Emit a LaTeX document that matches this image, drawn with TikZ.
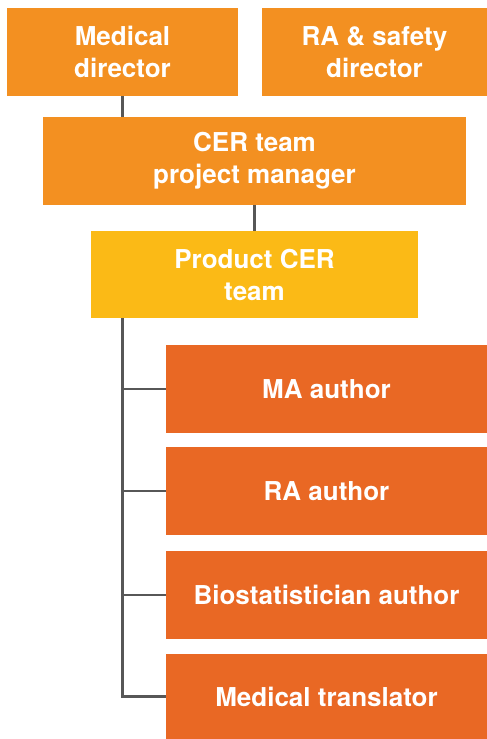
\documentclass[tikz,border=0pt]{standalone}
\usepackage{fontspec}
\setmainfont{TeX Gyre Heros}
\usepackage{xcolor}
\usepackage{tikz}
\usetikzlibrary{positioning}

\definecolor{cerorange}{HTML}{F39021}
\definecolor{ceryellow}{HTML}{FBBA16}
\definecolor{cerdark}{HTML}{E96824}
\definecolor{cerline}{HTML}{575757}

\begin{document}
\begin{tikzpicture}[
  x=1pt, y=-1pt,
  box/.style={inner sep=0pt, minimum height=88pt, align=center, text=white,
    font=\fontsize{26}{32}\selectfont\bfseries},
  link/.style={draw=cerline, line width=2.5pt},
]
\useasboundingbox (0,0) rectangle (487,739);

% top row
\node[box, fill=cerorange, minimum width=231pt] (med) at (122.5,52) {Medical\\director};
\node[box, fill=cerorange, minimum width=225pt] (ra) at (374.5,52) {RA \& safety\\director};

% project lead and team
\node[box, fill=cerorange, minimum width=423pt] (pm) at (254.5,161) {CER team\\project manager};
\node[box, fill=ceryellow, minimum width=327pt, minimum height=87pt] (prod) at (254.5,274.5) {Product CER\\team};

% authors
\node[box, fill=cerdark, minimum width=321pt] (ma) at (326.5,389) {MA author};
\node[box, fill=cerdark, minimum width=321pt] (raa) at (326.5,491) {RA author};
\node[box, fill=cerdark, minimum width=321pt] (bio) at (326.5,595) {Biostatistician author};
\node[box, fill=cerdark, minimum width=321pt, minimum height=85pt] (trans) at (326.5,696.5) {Medical translator};

\draw[link] (med) -- (med |- pm.north);
\draw[link] (pm) -- (prod);
\draw[link] (med.south |- prod.south) |- (trans.west);
\foreach \n in {ma,raa,bio}
  \draw[link] (med.south |- \n.west) -- (\n.west);

\end{tikzpicture}
\end{document}
